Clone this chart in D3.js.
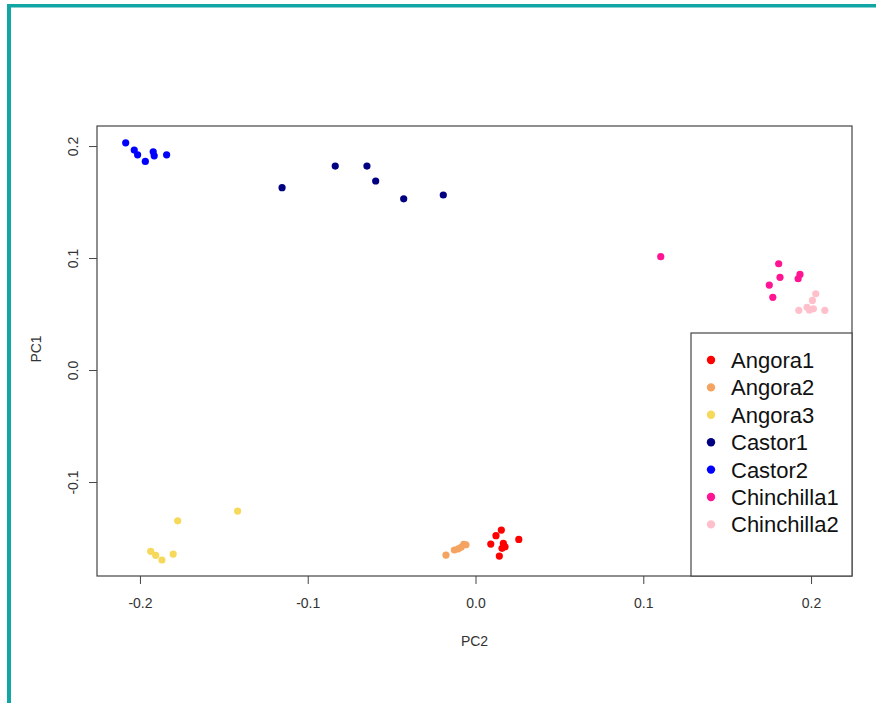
<!DOCTYPE html>
<html>
<head>
<meta charset="utf-8">
<script src="https://cdn.jsdelivr.net/npm/d3@7"></script>
<style>
  body { margin: 0; background: #fff; }
  svg { display: block; font-family: "Liberation Sans", Arial, sans-serif; }
</style>
</head>
<body>
<svg id="pcaChart" width="876" height="703"></svg>
<script>
// groups (legend order)
var groups = ["Angora1", "Angora2", "Angora3", "Castor1", "Castor2", "Chinchilla1", "Chinchilla2"];
var groupColors = ["#ff0000", "#f4a460", "#f6d95b", "#000080", "#0000ff", "#ff1493", "#ffc0cb"];

// PC2 (x) / PC1 (y) per group
var angora1PC2 = [0.0154, 0.0122, 0.0091, 0.0166, 0.0176, 0.0158, 0.0142, 0.0258];
var angora1PC1 = [-0.1429, -0.1479, -0.1554, -0.1548, -0.1578, -0.1592, -0.1661, -0.1512];
var angora2PC2 = [-0.0176, -0.0126, -0.0103, -0.0086, -0.0070, -0.0057];
var angora2PC1 = [-0.1652, -0.1607, -0.1596, -0.1583, -0.1556, -0.1560];
var angora3PC2 = [-0.1775, -0.1418, -0.1936, -0.1906, -0.1869, -0.1802];
var angora3PC1 = [-0.1346, -0.1259, -0.1619, -0.1654, -0.1696, -0.1643];
var castor1PC2 = [-0.1153, -0.0836, -0.0647, -0.0595, -0.0428, -0.0192];
var castor1PC1 = [0.1628, 0.1821, 0.1821, 0.1688, 0.1529, 0.1563];
var castor2PC2 = [-0.2085, -0.2034, -0.2014, -0.1968, -0.1921, -0.1915, -0.1841];
var castor2PC1 = [0.2029, 0.1964, 0.1922, 0.1863, 0.1949, 0.1913, 0.1922];
var chinchilla1PC2 = [0.1104, 0.1807, 0.1815, 0.1751, 0.1772, 0.1934, 0.1923];
var chinchilla1PC1 = [0.1012, 0.0949, 0.0828, 0.0759, 0.0649, 0.0854, 0.0815];
var chinchilla2PC2 = [0.2028, 0.2008, 0.1927, 0.1976, 0.1990, 0.2014, 0.2082];
var chinchilla2PC1 = [0.0681, 0.0622, 0.0533, 0.0560, 0.0536, 0.0547, 0.0533];

var xTicks = [-0.2, -0.1, 0.0, 0.1, 0.2];
var yTicks = [-0.1, 0.0, 0.1, 0.2];

var pc2Sets = [angora1PC2, angora2PC2, angora3PC2, castor1PC2, castor2PC2, chinchilla1PC2, chinchilla2PC2];
var pc1Sets = [angora1PC1, angora2PC1, angora3PC1, castor1PC1, castor2PC1, chinchilla1PC1, chinchilla2PC1];

var points = [];
groups.forEach(function(g, i) {
  pc2Sets[i].forEach(function(v, j) {
    points.push({ group: g, pc2: v, pc1: pc1Sets[i][j] });
  });
});

// R style tick labels: plain hyphen minus
var tickFmt = function(d) { return d3.format(".1f")(d).replace("\u2212", "-"); };

var svg = d3.select("#pcaChart");
var box = { left: 97, right: 852, top: 126, bottom: 576 };

// teal frame
svg.append("rect").attr("x", 7).attr("y", 4).attr("width", 869).attr("height", 3.5).attr("fill", "#11a6a4");
svg.append("rect").attr("x", 7).attr("y", 4).attr("width", 4).attr("height", 699).attr("fill", "#11a6a4");

var x = d3.scaleLinear()
          .domain([-0.2256, 0.2244])
          .range([box.left, box.right]);

var y = d3.scaleLinear()
          .domain([-0.1839, 0.2179])
          .range([box.bottom, box.top]);

var color = d3.scaleOrdinal().domain(groups).range(groupColors);

// x axis
var xAxis = svg.append("g")
    .attr("transform", "translate(0," + box.bottom + ")")
    .call(d3.axisBottom(x).tickValues(xTicks).tickSize(8).tickPadding(14).tickFormat(tickFmt));
xAxis.select(".domain").remove();
xAxis.selectAll("line").attr("stroke", "#444");
xAxis.selectAll("text").attr("font-size", 14).attr("fill", "#333")
     .attr("font-family", "Liberation Sans, Arial, sans-serif");

// y axis (labels rotated like R)
var yAxis = svg.append("g")
    .attr("transform", "translate(" + box.left + ",0)")
    .call(d3.axisLeft(y).tickValues(yTicks).tickSize(8).tickFormat(tickFmt));
yAxis.select(".domain").remove();
yAxis.selectAll("line").attr("stroke", "#444");
yAxis.selectAll("text")
     .attr("font-size", 14).attr("fill", "#333")
     .attr("font-family", "Liberation Sans, Arial, sans-serif")
     .attr("x", null).attr("dy", null)
     .attr("text-anchor", "middle")
     .attr("transform", "translate(-19,0) rotate(-90)");

// plot box
svg.append("rect")
   .attr("x", box.left).attr("y", box.top)
   .attr("width", box.right - box.left).attr("height", box.bottom - box.top)
   .attr("fill", "none").attr("stroke", "#444").attr("stroke-width", 1.2);

// axis titles
svg.append("text")
   .attr("x", (box.left + box.right) / 2).attr("y", 646)
   .attr("text-anchor", "middle").attr("font-size", 14).attr("fill", "#333")
   .text("PC2");
svg.append("text")
   .attr("transform", "translate(41," + ((box.top + box.bottom) / 2 - 2) + ") rotate(-90)")
   .attr("text-anchor", "middle").attr("font-size", 14).attr("fill", "#333")
   .text("PC1");

// points
svg.append("g").selectAll("circle")
   .data(points)
   .enter()
   .append("circle")
   .attr("cx", function(d) { return x(d.pc2); })
   .attr("cy", function(d) { return y(d.pc1); })
   .attr("r", 3.6)
   .attr("fill", function(d) { return color(d.group); });

// legend
var legendBox = svg.append("g");
legendBox.append("rect")
   .attr("x", 691).attr("y", 333)
   .attr("width", box.right - 691).attr("height", box.bottom - 333)
   .attr("fill", "#fff").attr("stroke", "#444").attr("stroke-width", 1.2);

var legend = legendBox.selectAll(".legend-item")
   .data(groups)
   .enter()
   .append("g")
   .attr("class", "legend-item")
   .attr("transform", function(d, i) { return "translate(711," + (360 + i * 27.4) + ")"; });

legend.append("circle")
   .attr("r", 4.2)
   .attr("fill", function(d) { return color(d); });

legend.append("text")
   .attr("x", 20)
   .attr("dy", "0.36em")
   .attr("font-size", 22)
   .attr("fill", "#111")
   .text(function(d) { return d; });
</script>
</body>
</html>
